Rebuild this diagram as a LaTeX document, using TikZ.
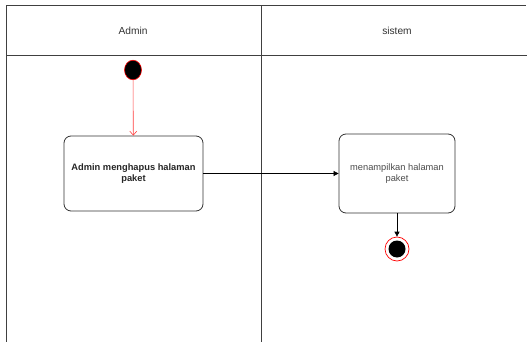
\documentclass[tikz,border=0pt]{standalone}
\usepackage{fontspec}
\setmainfont{Liberation Sans}
\usetikzlibrary{arrows.meta}
\begin{document}
\begin{tikzpicture}[x=1pt,y=-1pt,
  lane/.style={draw=black!75,line width=0.9pt},
  act/.style={draw=black!80,line width=0.8pt,rounded corners=7pt,fill=white,align=center,font=\fontsize{9.3}{13.5}\selectfont},
  flow/.style={draw=black,line width=0.7pt,-{Triangle[length=5pt,width=5pt]}},
  hdr/.style={font=\fontsize{10.2}{12}\selectfont,text=black!80}]
\useasboundingbox (0,0) rectangle (527,342);
\fill[white] (0,0) rectangle (527,342);
% swimlanes
\draw[lane] (6.5,342) -- (6.5,5.5) -- (526,5.5);
\draw[lane] (6.5,55.5) -- (527,55.5);
\draw[lane] (261.5,5.5) -- (261.5,342);
\node[hdr] (h1) at (133,31) {Admin};
\node[hdr] (h2) at (397,31) {sistem};
% start
\node[circle,fill=black,draw=red,line width=0.6pt,minimum width=17pt,inner sep=0pt,yscale=1.15] (start) at (133,70) {};
% actions
\node[act,minimum width=139pt,minimum height=75pt,text=black!85] (a1) at (133.5,173.5) {\raisebox{6pt}{\begin{tabular}{@{}c@{}}\bfseries Admin menghapus halaman\\[-2pt]\bfseries paket\end{tabular}}};
\node[act,minimum width=116pt,minimum height=79pt,text=black!70] (a2) at (397,173.5) {\raisebox{6pt}{\begin{tabular}{@{}c@{}}menampilkan halaman\\[-2pt]paket\end{tabular}}};
% end
\node[circle,draw=red,line width=0.7pt,minimum width=24pt,inner sep=0pt] (end) at (397,249) {};
\node[circle,fill=black,minimum width=17pt,inner sep=0pt] (endin) at (end) {};
% flows
\draw[flow,draw=red!75,-{Straight Barb[length=4pt,width=7pt]},line width=0.6pt,red!75] (start) -- (a1);
\draw[flow] (a1.east |- 0,173.5) -- (a2.west |- 0,173.5);
\draw[flow] (a2) -- (end);
\end{tikzpicture}
\end{document}
